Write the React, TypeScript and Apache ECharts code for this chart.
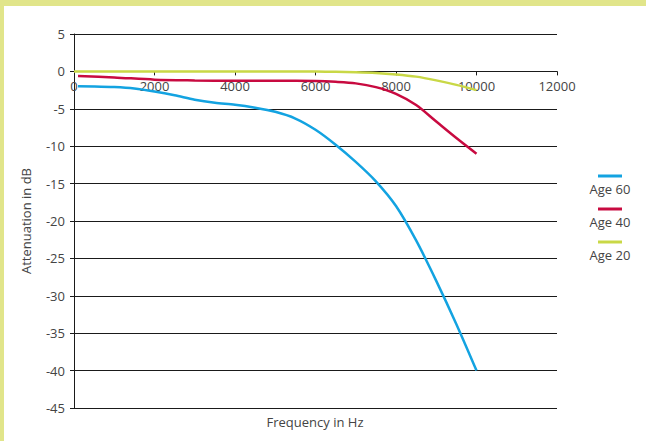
import React, { useEffect, useRef } from "react";
import * as echarts from "echarts";

const xTicks = [0, 2000, 4000, 6000, 8000, 10000, 12000];
const yTicks = [5, 0, -5, -10, -15, -20, -25, -30, -35, -40, -45];

const age60Freq = [100, 500, 1000, 1500, 2000, 2500, 3000, 3500, 4000, 4500, 5000, 5500, 6000, 6500, 7000, 7500, 8000, 8500, 9000, 9500, 10000];
const age60Vals = [-2.0, -2.02, -2.1, -2.3, -2.7, -3.2, -3.8, -4.2, -4.45, -4.85, -5.4, -6.3, -7.8, -9.8, -12.1, -14.7, -18.0, -22.6, -28.0, -33.8, -40];

const age40Freq = [100, 1000, 2000, 3000, 4000, 5000, 6000, 6500, 7000, 7500, 8000, 8500, 9000, 9500, 10000];
const age40Vals = [-0.6, -0.8, -1.1, -1.2, -1.25, -1.25, -1.3, -1.4, -1.6, -2.1, -3.0, -4.5, -6.7, -8.9, -11];

const age20Freq = [0, 1000, 2000, 3000, 4000, 5000, 5500, 6000, 6500, 7000, 7500, 8000, 8500, 9000, 9500, 10000];
const age20Vals = [0, 0, 0, 0, 0, 0, 0, -0.02, -0.05, -0.1, -0.2, -0.4, -0.7, -1.2, -1.8, -2.5];

const seriesNames = ["Age 60", "Age 40", "Age 20"];
const seriesColors = ["#13a3e1", "#c80a40", "#c9d846"];

const FONT = "'Open Sans', sans-serif";
const TEXT = "#444";

const GRID_TOP = 34;
const GRID_BOTTOM = 33;
const H = 441;

export default function App() {
  const ref = useRef<HTMLDivElement>(null);
  useEffect(() => {
    if (!ref.current) return;
    const chart = echarts.init(ref.current, undefined, { renderer: "svg" });
    const pair = (xs: number[], ys: number[]) => xs.map((x, i) => [x, ys[i]]);
    const datasets = [pair(age60Freq, age60Vals), pair(age40Freq, age40Vals), pair(age20Freq, age20Vals)];

    const yMax = yTicks[0];
    const yMin = yTicks[yTicks.length - 1];
    const plotH = H - GRID_TOP - GRID_BOTTOM;
    const zeroOffset = (plotH * (0 - yMin)) / (yMax - yMin);

    const legendGraphics: any[] = [];
    seriesNames.forEach((name, i) => {
      const cy = 176 + i * 33;
      legendGraphics.push({
        type: "line",
        shape: { x1: 598, y1: cy, x2: 622, y2: cy },
        style: { stroke: seriesColors[i], lineWidth: 3 },
      });
      legendGraphics.push({
        type: "text",
        x: 610,
        y: cy + 13,
        style: { text: name, fill: TEXT, font: `13px ${FONT}`, align: "center", verticalAlign: "middle" },
      });
    });

    chart.setOption({
      animation: false,
      backgroundColor: "#fff",
      grid: { left: 74, right: 89, top: GRID_TOP, bottom: GRID_BOTTOM, containLabel: false },
      xAxis: {
        type: "value",
        position: "bottom",
        offset: -zeroOffset,
        min: xTicks[0],
        max: xTicks[xTicks.length - 1],
        interval: 2000,
        axisLine: { show: true, onZero: false, lineStyle: { color: "#1a1a1a", width: 1 } },
        axisTick: { show: true, length: 4, lineStyle: { color: "#1a1a1a" } },
        axisLabel: { color: TEXT, fontFamily: FONT, fontSize: 13, margin: 8, formatter: (v: number) => String(v) },
        splitLine: { show: false },
      },
      yAxis: {
        type: "value",
        min: yMin,
        max: yMax,
        interval: 5,
        name: "Attenuation in dB",
        nameLocation: "middle",
        nameGap: 42,
        nameTextStyle: { color: TEXT, fontFamily: FONT, fontSize: 13 },
        axisLine: { show: true, lineStyle: { color: "#1a1a1a", width: 1 } },
        axisTick: { show: true, length: 4, lineStyle: { color: "#1a1a1a" } },
        axisLabel: { color: TEXT, fontFamily: FONT, fontSize: 13, margin: 9 },
        splitLine: { show: true, lineStyle: { color: "#1a1a1a", width: 1 } },
      },
      graphic: [
        { type: "rect", shape: { x: 0, y: 0, width: 646, height: 6 }, style: { fill: "#e1e58a" } },
        { type: "rect", shape: { x: 0, y: 0, width: 4, height: 441 }, style: { fill: "#e1e58a" } },
        {
          type: "text",
          x: 315,
          y: 422,
          style: { text: "Frequency in Hz", fill: TEXT, font: `13px ${FONT}`, align: "center", verticalAlign: "middle" },
        },
        ...legendGraphics,
      ],
      series: seriesNames.map((name, i) => ({
        name,
        type: "line",
        data: datasets[i],
        smooth: 0.3,
        symbol: "none",
        lineStyle: { color: seriesColors[i], width: 2.5 },
        z: 3 - i,
      })),
    });
    return () => chart.dispose();
  }, []);
  return <div ref={ref} style={{ position: "absolute", left: 0, top: 0, width: 646, height: 441 }} />;
}
